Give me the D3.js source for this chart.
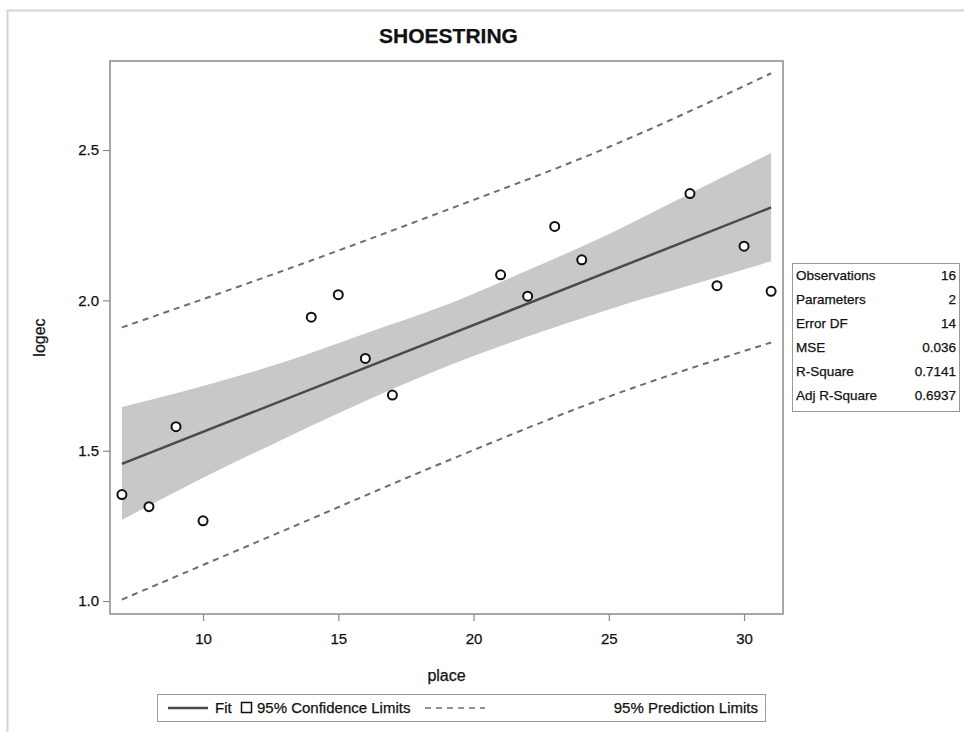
<!DOCTYPE html>
<html>
<head>
<meta charset="utf-8">
<script src="https://cdn.jsdelivr.net/npm/d3@7"></script>
<style>
  body { margin: 0; background: #fff; }
  svg { display: block; font-family: "Liberation Sans", Arial, sans-serif; }
  .txt { fill: #111; stroke: #111; stroke-width: 0.25; }
</style>
</head>
<body>
<svg id="chart" width="964" height="732"></svg>
<script>
// ==========================================
// DATA
// ==========================================
const places = [7, 8, 9, 10, 14, 15, 16, 17, 21, 22, 23, 24, 28, 29, 30, 31];
const logec = [1.354, 1.314, 1.580, 1.267, 1.944, 2.019, 1.807, 1.685,
               2.085, 2.014, 2.246, 2.135, 2.355, 2.049, 2.180, 2.030];

const fitX = [7, 31];
const fitY = [1.456, 2.309];

const bandX = [7, 10, 13, 16, 19, 22, 25, 28, 31];
const clUpper = [1.645, 1.715, 1.795, 1.89, 1.985, 2.10, 2.22, 2.355, 2.49];
const clLower = [1.27, 1.41, 1.54, 1.665, 1.78, 1.88, 1.97, 2.05, 2.13];

const predX = [7, 13, 19, 25, 31];
const plUpper = [1.91, 2.10, 2.30, 2.51, 2.755];
const plLower = [1.005, 1.235, 1.465, 1.68, 1.86];

const xTicks = [10, 15, 20, 25, 30];
const yTicks = [1.0, 1.5, 2.0, 2.5];

const statLabels = ['Observations', 'Parameters', 'Error DF', 'MSE', 'R-Square', 'Adj R-Square'];
const statValues = ['16', '2', '14', '0.036', '0.7141', '0.6937'];

const legendLabels = ['Fit', '95% Confidence Limits', '95% Prediction Limits'];

// ==========================================
// SETUP
// ==========================================
const svg = d3.select('#chart');
const plot = { left: 110, right: 783, top: 61, bottom: 614 };

const x = d3.scaleLinear().domain([6.56, 31.44]).range([plot.left, plot.right]);
const y = d3.scaleLinear().domain([0.957, 2.796]).range([plot.bottom, plot.top]);

// outer frame of the screenshot
svg.append('path')
  .attr('d', 'M7.5,732 V10.5 H964')
  .attr('fill', 'none')
  .attr('stroke', '#d4d4d4')
  .attr('stroke-width', 2);

// title
svg.append('text')
  .attr('class', 'txt')
  .attr('x', (plot.left + plot.right) / 2 + 2)
  .attr('y', 43)
  .attr('text-anchor', 'middle')
  .attr('font-size', 21)
  .attr('font-weight', 'bold')
  .text('SHOESTRING');

// ==========================================
// BAND, LINES, POINTS
// ==========================================
const bandData = bandX.map((d, i) => ({ x: d, lo: clLower[i], hi: clUpper[i] }));
svg.append('path')
  .datum(bandData)
  .attr('fill', '#c8c8c8')
  .attr('d', d3.area()
    .x(d => x(d.x))
    .y0(d => y(d.lo))
    .y1(d => y(d.hi))
    .curve(d3.curveMonotoneX));

const fitData = fitX.map((d, i) => ({ x: d, y: fitY[i] }));
svg.append('path')
  .datum(fitData)
  .attr('fill', 'none')
  .attr('stroke', '#4a4a4a')
  .attr('stroke-width', 2.5)
  .attr('d', d3.line().x(d => x(d.x)).y(d => y(d.y)));

const predLine = d3.line().x(d => x(d.x)).y(d => y(d.y)).curve(d3.curveMonotoneX);
[plUpper, plLower].forEach(vals => {
  svg.append('path')
    .datum(predX.map((d, i) => ({ x: d, y: vals[i] })))
    .attr('fill', 'none')
    .attr('stroke', '#6e6e6e')
    .attr('stroke-width', 2)
    .attr('stroke-dasharray', '6,5')
    .attr('d', predLine);
});

svg.selectAll('.pt')
  .data(places.map((d, i) => ({ x: d, y: logec[i] })))
  .enter()
  .append('circle')
  .attr('class', 'pt')
  .attr('cx', d => x(d.x))
  .attr('cy', d => y(d.y))
  .attr('r', 4.5)
  .attr('fill', '#fff')
  .attr('stroke', '#111')
  .attr('stroke-width', 2);

// ==========================================
// FRAME & AXES
// ==========================================
svg.append('rect')
  .attr('x', plot.left)
  .attr('y', plot.top)
  .attr('width', plot.right - plot.left)
  .attr('height', plot.bottom - plot.top)
  .attr('fill', 'none')
  .attr('stroke', '#8a8a8a')
  .attr('stroke-width', 1.5);

const xAxis = svg.append('g')
  .attr('transform', `translate(0,${plot.bottom})`)
  .call(d3.axisBottom(x).tickValues(xTicks).tickSize(7).tickPadding(12).tickFormat(d3.format('d')));
const yAxis = svg.append('g')
  .attr('transform', `translate(${plot.left},0)`)
  .call(d3.axisLeft(y).tickValues(yTicks).tickSize(7).tickPadding(4).tickFormat(d3.format('.1f')));

[xAxis, yAxis].forEach(a => {
  a.select('.domain').remove();
  a.selectAll('.tick line').attr('stroke', '#8a8a8a').attr('stroke-width', 1.2);
  a.selectAll('.tick text')
    .attr('class', 'txt')
    .attr('font-size', 15)
    .attr('font-family', '"Liberation Sans", Arial, sans-serif');
});

svg.append('text')
  .attr('class', 'txt')
  .attr('x', (plot.left + plot.right) / 2)
  .attr('y', 681)
  .attr('text-anchor', 'middle')
  .attr('font-size', 16)
  .text('place');

svg.append('text')
  .attr('class', 'txt')
  .attr('transform', `translate(45,${(plot.top + plot.bottom) / 2}) rotate(-90)`)
  .attr('text-anchor', 'middle')
  .attr('font-size', 16)
  .text('logec');

// ==========================================
// STATS BOX
// ==========================================
const stats = svg.append('g');
stats.append('rect')
  .attr('x', 792.5).attr('y', 263.5)
  .attr('width', 167).attr('height', 148)
  .attr('fill', '#fff')
  .attr('stroke', '#9a9a9a');

statLabels.forEach((lab, i) => {
  const ty = 280 + i * 24;
  stats.append('text')
    .attr('class', 'txt')
    .attr('x', 796).attr('y', ty)
    .attr('font-size', 13.5)
    .text(lab);
  stats.append('text')
    .attr('class', 'txt')
    .attr('x', 956).attr('y', ty)
    .attr('text-anchor', 'end')
    .attr('font-size', 13.5)
    .text(statValues[i]);
});

// ==========================================
// LEGEND
// ==========================================
const leg = svg.append('g');
leg.append('rect')
  .attr('x', 157.5).attr('y', 694.5)
  .attr('width', 608).attr('height', 27)
  .attr('fill', '#fff')
  .attr('stroke', '#9a9a9a');

const ly = 708;
leg.append('line')
  .attr('x1', 168).attr('x2', 208).attr('y1', ly).attr('y2', ly)
  .attr('stroke', '#4a4a4a').attr('stroke-width', 2.5);
leg.append('text')
  .attr('class', 'txt')
  .attr('x', 215).attr('y', ly + 5)
  .attr('font-size', 15)
  .text(legendLabels[0]);
leg.append('rect')
  .attr('x', 241.5).attr('y', ly - 5.5)
  .attr('width', 10).attr('height', 10)
  .attr('fill', '#fff')
  .attr('stroke', '#111').attr('stroke-width', 1.5);
leg.append('text')
  .attr('class', 'txt')
  .attr('x', 257).attr('y', ly + 5)
  .attr('font-size', 15)
  .text(legendLabels[1]);
leg.append('line')
  .attr('x1', 425).attr('x2', 485).attr('y1', ly).attr('y2', ly)
  .attr('stroke', '#6e6e6e').attr('stroke-width', 1.5)
  .attr('stroke-dasharray', '6,5');
leg.append('text')
  .attr('class', 'txt')
  .attr('x', 758).attr('y', ly + 5)
  .attr('text-anchor', 'end')
  .attr('font-size', 15)
  .text(legendLabels[2]);
</script>
</body>
</html>
